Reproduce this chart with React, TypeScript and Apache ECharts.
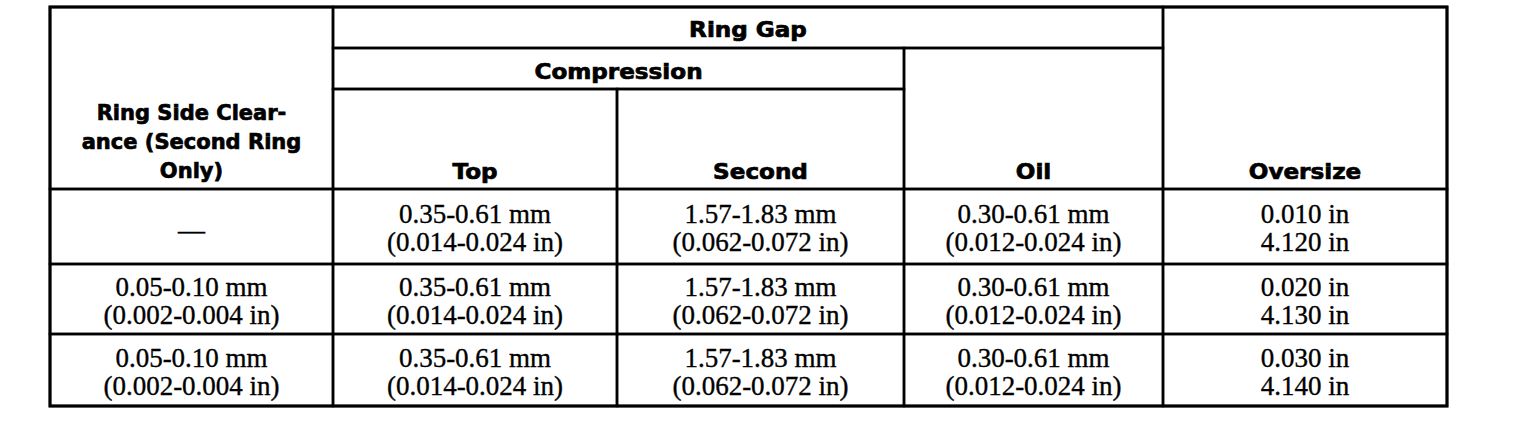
import React, { useEffect, useRef } from "react";
import * as echarts from "echarts";

// ---- table content ----
const headerSideClearance = ["Ring Side Clear-", "ance (Second Ring", "Only)"];
const headerRingGap = "Ring Gap";
const headerCompression = "Compression";
const headerColumns = ["Top", "Second", "Oil", "Oversize"];

const sideClearance = [
  ["—"],
  ["0.05-0.10 mm", "(0.002-0.004 in)"],
  ["0.05-0.10 mm", "(0.002-0.004 in)"],
];
const gapTop = [
  ["0.35-0.61 mm", "(0.014-0.024 in)"],
  ["0.35-0.61 mm", "(0.014-0.024 in)"],
  ["0.35-0.61 mm", "(0.014-0.024 in)"],
];
const gapSecond = [
  ["1.57-1.83 mm", "(0.062-0.072 in)"],
  ["1.57-1.83 mm", "(0.062-0.072 in)"],
  ["1.57-1.83 mm", "(0.062-0.072 in)"],
];
const gapOil = [
  ["0.30-0.61 mm", "(0.012-0.024 in)"],
  ["0.30-0.61 mm", "(0.012-0.024 in)"],
  ["0.30-0.61 mm", "(0.012-0.024 in)"],
];
const oversize = [
  ["0.010 in", "4.120 in"],
  ["0.020 in", "4.130 in"],
  ["0.030 in", "4.140 in"],
];

// ---- layout (grid edges) ----
const COLS = [50, 333, 617, 904, 1163, 1447];
const ROWS = [7, 48, 89, 189, 264, 334, 406];

const HEAD_FONT = 'bold 21px "DejaVu Sans"';
const HEAD_SCALE = 1.1;
const SIDE_HEAD_SCALE = 1.0;
const BODY_FONT = '27px "Liberation Serif"';
const LINE = 2.5;

function buildGraphic() {
  const els: any[] = [];
  const rect = (c0: number, c1: number, r0: number, r1: number) => {
    els.push({
      type: "rect",
      shape: { x: COLS[c0], y: ROWS[r0], width: COLS[c1] - COLS[c0], height: ROWS[r1] - ROWS[r0] },
      style: { fill: "none", stroke: "#000", lineWidth: LINE },
    });
  };
  const headText = (text: string, x: number, y: number, sx = HEAD_SCALE) => {
    els.push({
      type: "text",
      x,
      y,
      scaleX: sx,
      style: {
        text, x: 0, y: 0, font: HEAD_FONT, fill: "#000", stroke: "#000", lineWidth: 0.7,
        align: "center", verticalAlign: "middle",
      },
    });
  };
  const bodyText = (text: string, x: number, y: number) => {
    els.push({
      type: "text",
      x,
      y,
      style: {
        text, x: 0, y: 0, font: BODY_FONT, fill: "#000", stroke: "#000", lineWidth: 0.35,
        align: "center", verticalAlign: "middle",
      },
    });
  };
  const cx = (c0: number, c1: number) => (COLS[c0] + COLS[c1]) / 2;

  // header cells
  rect(0, 1, 0, 3);
  rect(1, 4, 0, 1);
  rect(1, 3, 1, 2);
  rect(1, 2, 2, 3);
  rect(2, 3, 2, 3);
  rect(3, 4, 1, 3);
  rect(4, 5, 0, 3);

  headerSideClearance.forEach((t, i) =>
    headText(t, cx(0, 1), ROWS[3] - 18 - (headerSideClearance.length - 1 - i) * 29, SIDE_HEAD_SCALE)
  );
  headText(headerRingGap, cx(1, 4), ROWS[1] - 18);
  headText(headerCompression, cx(1, 3), ROWS[2] - 17);
  headText(headerColumns[0], cx(1, 2), ROWS[3] - 17);
  headText(headerColumns[1], cx(2, 3), ROWS[3] - 17);
  headText(headerColumns[2], cx(3, 4), ROWS[3] - 17);
  headText(headerColumns[3], cx(4, 5), ROWS[3] - 17);

  // body cells
  const bodyCols = [sideClearance, gapTop, gapSecond, gapOil, oversize];
  for (let r = 0; r < 3; r++) {
    const top = ROWS[3 + r];
    const bot = ROWS[4 + r];
    const mid = (top + bot) / 2;
    bodyCols.forEach((col, c) => {
      rect(c, c + 1, 3 + r, 4 + r);
      const lines = col[r];
      const n = lines.length;
      lines.forEach((t, i) => {
        const y = mid + (i - (n - 1) / 2) * 28 + (n === 1 ? 3 : 1.5);
        bodyText(t, cx(c, c + 1), y);
      });
    });
  }

  // outer border
  els.push({
    type: "rect",
    shape: { x: COLS[0], y: ROWS[0], width: COLS[5] - COLS[0], height: ROWS[6] - ROWS[0] },
    style: { fill: "none", stroke: "#000", lineWidth: 3 },
  });
  return els;
}

export default function App() {
  const ref = useRef<HTMLDivElement>(null);
  useEffect(() => {
    document.body.style.margin = "0";
    const chart = echarts.init(ref.current!, undefined, { renderer: "svg" });
    chart.setOption({
      animation: false,
      backgroundColor: "#fff",
      graphic: { elements: buildGraphic() },
    });
    return () => chart.dispose();
  }, []);
  return <div ref={ref} style={{ width: 1536, height: 428 }} />;
}
